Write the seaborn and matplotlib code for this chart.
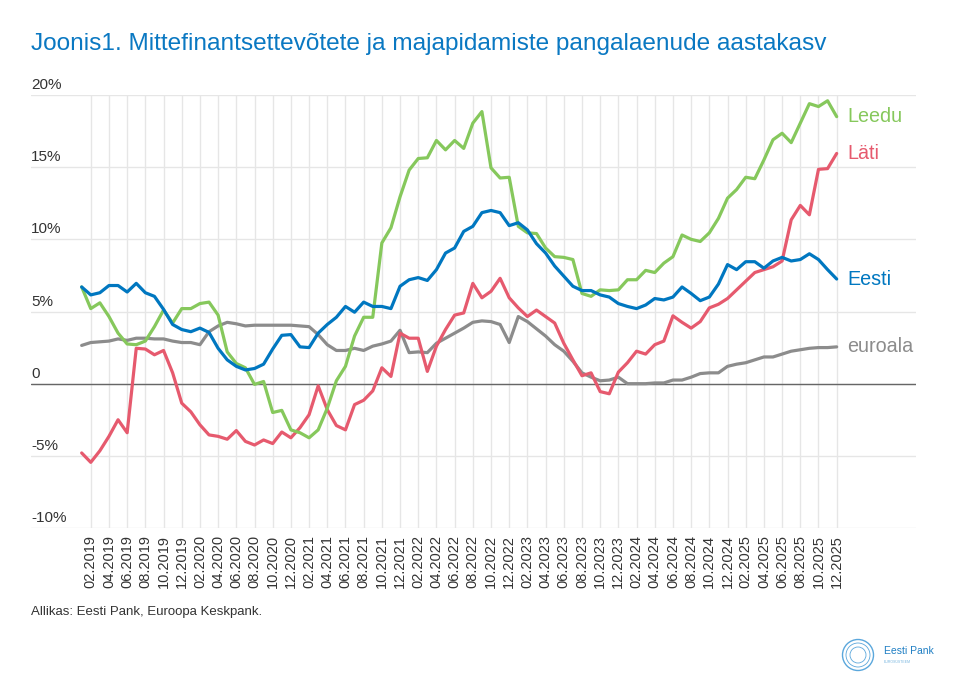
import numpy as np
import pandas as pd
import matplotlib
matplotlib.use("Agg")
import matplotlib.pyplot as plt
import matplotlib.transforms as mtransforms
from matplotlib.patches import Circle
import seaborn as sns


# ──────────────────────────────────────────────
# Data (annual growth of bank loans, %)
# ──────────────────────────────────────────────

MONTHS = [p.strftime("%m.%Y") for p in pd.period_range("2019-01", "2025-12", freq="M")]

EESTI = [
    6.7, 6.15, 6.3, 6.8, 6.8, 6.35, 6.95, 6.3, 6.05, 5.15,
    4.1, 3.75, 3.6, 3.85, 3.55, 2.45, 1.65, 1.2, 0.95, 1.05,
    1.35, 2.4, 3.35, 3.4, 2.55, 2.5, 3.5, 4.1, 4.6, 5.35,
    4.95, 5.65, 5.35, 5.35, 5.2, 6.75, 7.2, 7.35, 7.15, 7.9,
    9.05, 9.4, 10.55, 10.9, 11.85, 12.0, 11.85, 10.95, 11.15, 10.65,
    9.7, 9.05, 8.15, 7.45, 6.75, 6.45, 6.45, 6.15, 6.0, 5.55,
    5.35, 5.2, 5.45, 5.9, 5.8, 6.0, 6.7, 6.25, 5.75, 6.0,
    6.9, 8.25, 7.9, 8.45, 8.45, 8.0, 8.5, 8.75, 8.5, 8.6,
    9.0, 8.6, 7.9, 7.25,
]

LEEDU = [
    6.7, 5.2, 5.6, 4.65, 3.5, 2.75, 2.7, 2.95, 3.95, 5.1,
    4.2, 5.2, 5.2, 5.55, 5.65, 4.75, 2.2, 1.4, 1.1, -0.05,
    0.15, -2.0, -1.85, -3.2, -3.4, -3.75, -3.2, -1.7, 0.2, 1.2,
    3.3, 4.6, 4.6, 9.75, 10.8, 12.95, 14.8, 15.6, 15.65, 16.85,
    16.2, 16.85, 16.3, 18.05, 18.85, 14.95, 14.25, 14.3, 10.9, 10.45,
    10.4, 9.4, 8.8, 8.75, 8.6, 6.25, 6.05, 6.5, 6.45, 6.5,
    7.2, 7.2, 7.85, 7.7, 8.35, 8.8, 10.3, 10.0, 9.85, 10.45,
    11.45, 12.85, 13.45, 14.3, 14.2, 15.5, 16.9, 17.35, 16.7, 18.05,
    19.4, 19.2, 19.6, 18.5,
]

LATI = [
    -4.8, -5.45, -4.65, -3.65, -2.5, -3.4, 2.45, 2.4, 2.0, 2.3,
    0.75, -1.35, -1.95, -2.85, -3.55, -3.65, -3.85, -3.25, -4.0, -4.25,
    -3.9, -4.15, -3.35, -3.75, -3.05, -2.15, -0.15, -1.8, -2.9, -3.2,
    -1.45, -1.15, -0.5, 1.1, 0.5, 3.5, 3.15, 3.15, 0.85, 2.6,
    3.75, 4.75, 4.9, 6.95, 5.95, 6.4, 7.3, 5.95, 5.25, 4.65,
    5.1, 4.65, 4.2, 2.8, 1.65, 0.55, 0.75, -0.55, -0.7, 0.8,
    1.45, 2.25, 2.05, 2.7, 2.95, 4.7, 4.25, 3.85, 4.3, 5.25,
    5.5, 5.9, 6.5, 7.1, 7.7, 7.9, 8.1, 8.5, 11.35, 12.35,
    11.7, 14.85, 14.9, 15.95,
]

EUROALA = [
    2.65, 2.85, 2.9, 2.95, 3.1, 3.0, 3.15, 3.15, 3.1, 3.1,
    2.95, 2.85, 2.85, 2.7, 3.6, 4.0, 4.25, 4.15, 4.0, 4.05,
    4.05, 4.05, 4.05, 4.05, 4.0, 3.95, 3.4, 2.7, 2.3, 2.3,
    2.45, 2.3, 2.6, 2.75, 2.95, 3.7, 2.15, 2.2, 2.15, 2.8,
    3.15, 3.5, 3.85, 4.25, 4.35, 4.3, 4.1, 2.85, 4.65, 4.3,
    3.8, 3.3, 2.7, 2.25, 1.55, 0.75, 0.45, 0.2, 0.25, 0.45,
    0.0, 0.0, 0.0, 0.05, 0.05, 0.25, 0.25, 0.45, 0.7, 0.75,
    0.75, 1.2, 1.35, 1.45, 1.65, 1.85, 1.85, 2.05, 2.25, 2.35,
    2.45, 2.5, 2.5, 2.55,
]

# drawing order (last one on top)
SERIES_ORDER = ["euroala", "Läti", "Leedu", "Eesti"]
COLORS = {
    "Leedu": "#86c85c",
    "Läti": "#e65a6e",
    "Eesti": "#0077c0",
    "euroala": "#8c8c8c",
}

Y_TICKS = [-10, -5, 0, 5, 10, 15, 20]
Y_TICK_LABELS = ["-10%", "-5%", "0", "5%", "10%", "15%", "20%"]

TITLE = "Joonis1. Mittefinantsettevõtete ja majapidamiste pangalaenude aastakasv"
SOURCE = "Allikas: Eesti Pank, Euroopa Keskpank."

TEXT_COLOR = "#333333"
GRID_COLOR = "#e6e6e6"


def build_frame():
    """Long-format table for seaborn."""
    values = {"Eesti": EESTI, "Leedu": LEEDU, "Läti": LATI, "euroala": EUROALA}
    rows = []
    for name, vals in values.items():
        assert len(vals) == len(MONTHS), name
        for i, v in enumerate(vals):
            rows.append({"idx": i, "kuu": MONTHS[i], "riik": name, "kasv": v})
    return pd.DataFrame(rows), values


def draw_logo(fig):
    """Small stand-in for the Eesti Pank logo."""
    cx, cy = 8.58, 6.86 - 6.55
    for r, lw in [(0.155, 1.0), (0.12, 0.6), (0.08, 0.6)]:
        fig.add_artist(Circle((cx, cy), r, transform=fig.dpi_scale_trans,
                              fill=False, ec="#5aa7dc", lw=lw))
    fig.text(8.84 / 9.6, 1 - 6.515 / 6.86, "Eesti Pank", fontsize=7.5,
             color="#1f7fc4", ha="left", va="center")
    fig.text(8.84 / 9.6, 1 - 6.62 / 6.86, "EUROSÜSTEEM", fontsize=2.5,
             color="#7ab7e0", ha="left", va="center")


if __name__ == "__main__":
    df, values = build_frame()

    sns.set_theme(style="white")
    plt.rcParams["font.family"] = ["Liberation Sans", "DejaVu Sans"]

    fig = plt.figure(figsize=(9.6, 6.86), dpi=100)
    ax = fig.add_axes([31 / 960, 1 - 528 / 686, (916 - 31) / 960, (528 - 95) / 686])

    sns.lineplot(
        data=df, x="idx", y="kasv", hue="riik",
        hue_order=SERIES_ORDER, palette=COLORS,
        linewidth=2.3, legend=False, ax=ax,
        solid_joinstyle="round", solid_capstyle="round",
    )

    ax.set_xlim(-5.57, 91.72)
    ax.set_ylim(-10, 20)

    # x axis: every second month
    ticks = list(range(1, len(MONTHS), 2))
    ax.set_xticks(ticks)
    ax.set_xticklabels([MONTHS[i] for i in ticks], rotation=90,
                       fontsize=10.5, color=TEXT_COLOR)
    ax.tick_params(axis="x", length=0, pad=5)

    # y axis: labels sit above the grid lines
    ax.set_yticks(Y_TICKS)
    ax.set_yticklabels([])
    ax.tick_params(axis="y", length=0)
    label_tr = mtransforms.offset_copy(ax.get_yaxis_transform(), fig=fig, x=0, y=3, units="dots")
    for val, lab in zip(Y_TICKS, Y_TICK_LABELS):
        ax.text(0, val, lab, transform=label_tr, ha="left", va="bottom",
                fontsize=11, color=TEXT_COLOR)

    ax.set_xlabel("")
    ax.set_ylabel("")
    ax.grid(True, color=GRID_COLOR, linewidth=1)
    ax.set_axisbelow(True)
    ax.axhline(0, color="#666666", linewidth=1, zorder=1.5)
    for spine in ax.spines.values():
        spine.set_visible(False)

    # series names at the end of each line
    last = len(MONTHS) - 1
    for name in ["Leedu", "Läti", "Eesti", "euroala"]:
        ax.annotate(name, xy=(last, values[name][-1]), xytext=(7.5, 0),
                    textcoords="offset points", ha="left", va="center",
                    fontsize=14.2, color=COLORS[name])

    fig.text(31 / 960, 1 - 44 / 686, TITLE, fontsize=17.6, color="#0a78c2",
             ha="left", va="center")
    fig.text(31 / 960, 1 - 612 / 686, SOURCE, fontsize=9.5, color=TEXT_COLOR,
             ha="left", va="center")
    draw_logo(fig)

    fig.savefig("out.png", dpi=100, facecolor="white")
    plt.close(fig)
